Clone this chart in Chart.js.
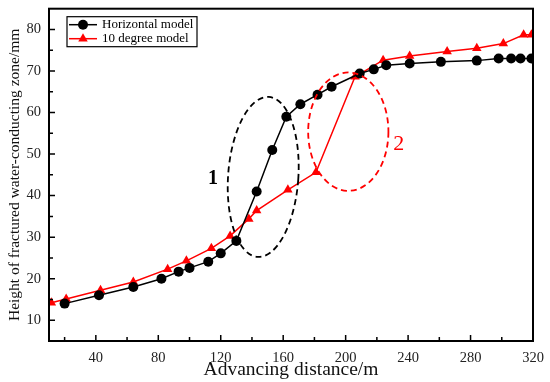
<!DOCTYPE html>
<html>
<head>
<meta charset="utf-8">
<script src="https://cdn.jsdelivr.net/npm/chart.js@4.4.1/dist/chart.umd.min.js"></script>
<style>
  html, body { margin: 0; padding: 0; background: #fff; }
  #wrap { width: 550px; height: 382px; }
</style>
</head>
<body>
<div id="wrap"><canvas id="myChart"></canvas></div>
<script>
// Horizontal model (black circles)
const horizX = [20, 42, 64, 82, 93, 100, 112, 120, 130, 143, 153, 162, 171, 182, 191, 209, 218, 226, 241, 261, 284, 298, 306, 312, 319];
const horizY = [14, 16, 18, 20, 21.7, 22.6, 24.1, 26.1, 29.1, 41, 51, 59, 62, 64.3, 66.2, 69.4, 70.4, 71.4, 71.8, 72.2, 72.5, 73, 73, 73, 73];

// 10 degree model (red triangles)
const tenX = [11.5, 21, 43, 64, 86, 98, 114, 126, 138, 143, 163, 181, 206, 224, 241, 265, 284, 301, 314, 319];
const tenY = [14.2, 15.1, 17.2, 19.2, 22.3, 24.3, 27.3, 30.3, 34.4, 36.4, 41.4, 45.6, 68.6, 72.6, 73.6, 74.7, 75.5, 76.6, 78.7, 78.7];

// tick labels
const xTicks = [40, 80, 120, 160, 200, 240, 280, 320];
const yTicks = [10, 20, 30, 40, 50, 60, 70, 80];

// dashed ellipses marking the jump zones (data units)
const zone1 = { cx: 147.2, cy: 44.5, rx: 22.5, ry: 19.3, rot: 0.07, color: '#000', label: '1', lx: 115, ly: 44.1, font: 'bold 20px ' };
const zone2 = { cx: 201.7, cy: 55.4, rx: 25.7, ry: 14.25, rot: 0, color: '#ff0000', label: '2', lx: 234, ly: 52.3, font: '22px ' };

const serif = "'Liberation Serif', 'Times New Roman', serif";

function toPoints(xs, ys) {
    return xs.map((x, i) => ({ x: x, y: ys[i] }));
}

const decor = {
    id: 'decor',
    afterDatasetsDraw(chart) {
        const ctx = chart.ctx;
        const xs = chart.scales.x, ys = chart.scales.y;
        [zone1, zone2].forEach(z => {
            const px = xs.getPixelForValue(z.cx), py = ys.getPixelForValue(z.cy);
            const rx = Math.abs(xs.getPixelForValue(z.cx + z.rx) - px);
            const ry = Math.abs(ys.getPixelForValue(z.cy + z.ry) - py);
            ctx.save();
            ctx.strokeStyle = z.color;
            ctx.lineWidth = 1.8;
            ctx.setLineDash([6, 4]);
            ctx.beginPath();
            ctx.ellipse(px, py, rx, ry, z.rot, 0, Math.PI * 2);
            ctx.stroke();
            ctx.setLineDash([]);
            ctx.fillStyle = z.color;
            ctx.font = z.font + serif;
            ctx.textAlign = 'center';
            ctx.textBaseline = 'middle';
            ctx.fillText(z.label, xs.getPixelForValue(z.lx), ys.getPixelForValue(z.ly));
            ctx.restore();
        });
    },
    afterDraw(chart) {
        const ctx = chart.ctx;
        const a = chart.chartArea;
        const xs = chart.scales.x, ys = chart.scales.y;
        ctx.save();
        ctx.strokeStyle = '#000';
        ctx.lineWidth = 2;
        ctx.strokeRect(a.left, a.top, a.right - a.left, a.bottom - a.top);

        // inward ticks
        ctx.lineWidth = 1.5;
        ctx.beginPath();
        for (let v = 20; v < 320; v += 20) {
            const len = v % 40 === 0 ? 6 : 4;
            const p = xs.getPixelForValue(v);
            ctx.moveTo(p, a.bottom); ctx.lineTo(p, a.bottom - len);
        }
        for (let v = 10; v < 85; v += 5) {
            const len = v % 10 === 0 ? 6 : 4;
            const p = ys.getPixelForValue(v);
            ctx.moveTo(a.left, p); ctx.lineTo(a.left + len, p);
        }
        ctx.stroke();

        // legend box
        const bx = a.left + 18, by = a.top + 8, bw = 130, bh = 30;
        ctx.lineWidth = 1.2;
        ctx.strokeRect(bx, by, bw, bh);
        ctx.font = '13px ' + serif;
        ctx.textBaseline = 'middle';
        chart.data.datasets.forEach((ds, i) => {
            const cy = by + 8 + i * 14;
            ctx.strokeStyle = ds.borderColor;
            ctx.lineWidth = 1.5;
            ctx.beginPath();
            ctx.moveTo(bx + 2, cy); ctx.lineTo(bx + 30, cy);
            ctx.stroke();
            ctx.fillStyle = ds.borderColor;
            Chart.helpers.drawPoint(ctx, {
                pointStyle: ds.pointStyle, radius: ds.pointRadius, borderWidth: 0, rotation: 0
            }, bx + 16, cy);
            ctx.fillStyle = '#000';
            ctx.fillText(ds.label, bx + 35, cy);
        });
        ctx.restore();
    }
};

const ctx = document.getElementById('myChart').getContext('2d');
const myChart = new Chart(ctx, {
    type: 'line',
    data: {
        datasets: [{
            label: 'Horizontal model',
            data: toPoints(horizX, horizY),
            borderColor: '#000',
            backgroundColor: '#000',
            borderWidth: 1.5,
            pointStyle: 'circle',
            pointRadius: 5,
            pointBorderWidth: 0
        }, {
            label: '10 degree model',
            data: toPoints(tenX, tenY),
            borderColor: '#ff0000',
            backgroundColor: '#ff0000',
            borderWidth: 1.5,
            pointStyle: 'triangle',
            pointRadius: 5.5,
            pointBorderWidth: 0
        }]
    },
    options: {
        responsive: true,
        maintainAspectRatio: false,
        animation: false,
        layout: { padding: { top: 7, right: 17 } },
        plugins: {
            legend: { display: false },
            tooltip: { enabled: false }
        },
        scales: {
            x: {
                type: 'linear',
                min: 10, max: 320,
                afterBuildTicks: s => { s.ticks = xTicks.map(v => ({ value: v })); },
                afterFit: s => { s.height = 41; },
                grid: { display: false },
                border: { display: false },
                ticks: { color: '#222', font: { family: serif, size: 14.5 }, padding: 0, maxRotation: 0 },
                title: { display: true, text: 'Advancing distance/m', color: '#111', font: { family: serif, size: 19.5 }, padding: { top: -2, bottom: 0 } }
            },
            y: {
                min: 5, max: 85,
                afterBuildTicks: s => { s.ticks = yTicks.map(v => ({ value: v })); },
                afterFit: s => { s.width = 49; },
                grid: { display: false },
                border: { display: false },
                ticks: { color: '#222', font: { family: serif, size: 14.5 }, padding: 0 },
                title: { display: true, text: 'Height of fractured water-conducting zone/mm', color: '#111', font: { family: serif, size: 15.5 }, padding: { top: 6, bottom: 0 } }
            }
        }
    },
    plugins: [decor]
});
</script>
</body>
</html>
